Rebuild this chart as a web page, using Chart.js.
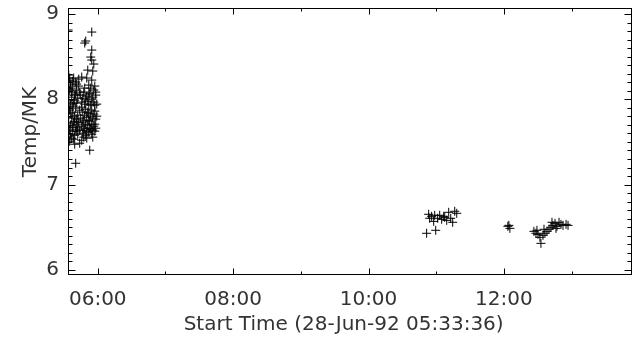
<!DOCTYPE html>
<html><head><meta charset="utf-8">
<script src="https://cdn.jsdelivr.net/npm/chart.js@4.4.1/dist/chart.umd.min.js"></script>
<style>html,body{margin:0;padding:0;background:#fff}canvas{display:block}</style>
</head><body>
<canvas id="c" width="635" height="339"></canvas>
<script>
// Times are decimal hours of day on 28-Jun-92; temperatures in MK
const earlyTimes = [5.570,5.600,5.644,5.674,5.585,5.630,5.689,5.570,5.615,5.659,5.704,5.562,5.600,5.644,5.585,5.630,5.674,5.570,5.615,5.659,5.704,5.562,5.600,5.644,5.689,5.585,5.630,5.674,5.570,5.615,5.659,5.704,5.600,5.562,5.659,5.570,5.689,5.600,5.719,5.570,5.562,
  5.659,5.763,5.881,5.674,5.733,5.793,
  5.748,5.793,5.837,5.881,5.926,5.970,5.763,5.807,5.852,5.896,5.941,5.733,5.778,5.822,5.867,5.911,5.956,5.748,5.793,5.837,5.881,5.926,5.970,5.763,5.807,5.852,5.896,5.941,5.778,5.822,5.867,5.911,5.956,5.719,5.733,5.985,5.704,
  5.911,5.822,5.807,5.911,5.896,5.911,5.926,5.852,5.763,5.911,5.941,5.867,5.896,5.956,5.837,5.719,5.733,
  5.585,5.630,5.689,5.615,5.674,5.570,5.630,5.689,5.600,5.659,5.570,5.630,5.689,5.585,5.644,
  5.778,5.822,5.867,5.911,5.956,5.763,5.807,5.852,5.896,5.941,5.985,5.778,5.822,5.867,5.911,5.956,5.793,5.837,5.881,5.926,5.970,5.837,5.926,5.807,5.867,5.970,5.941];
const earlyTemps = [8.225,8.178,8.249,8.202,8.108,8.131,8.108,8.049,8.025,8.049,8.014,7.967,7.943,7.955,7.873,7.849,7.896,7.790,7.779,7.802,7.814,7.720,7.697,7.732,7.708,7.638,7.626,7.650,7.567,7.544,7.579,7.591,8.155,8.131,7.990,7.908,7.767,7.591,8.237,8.284,8.812,
  7.473,7.520,7.403,7.250,7.485,7.556,
  8.049,8.084,8.037,8.072,8.025,8.049,7.967,7.943,7.978,7.931,7.967,7.873,7.849,7.884,7.837,7.873,7.861,7.779,7.755,7.790,7.743,7.779,7.767,7.685,7.661,7.697,7.650,7.685,7.603,7.579,7.614,7.591,7.626,7.732,7.638,7.943,7.673,
  8.788,8.683,8.659,8.577,8.495,8.460,8.331,8.342,8.260,8.225,8.413,8.166,8.131,8.155,8.249,8.155,8.084,
  8.249,8.213,8.178,8.084,8.061,7.990,7.920,7.955,7.837,7.743,7.673,7.673,7.626,7.509,7.532,
  8.014,8.002,7.943,8.002,7.931,7.908,7.814,7.849,7.802,7.826,7.802,7.732,7.708,7.755,7.708,7.708,7.638,7.626,7.661,7.638,7.661,7.544,7.556,8.131,8.061,8.084,8.108];
const midTimes = [10.859,10.889,10.933,10.963,10.993,11.022,11.052,11.081,11.111,11.156,11.185,11.215,11.244,11.274,11.304,11.126,10.978,10.904];
const midTemps = [6.429,6.652,6.628,6.569,6.464,6.605,6.640,6.593,6.628,6.581,6.675,6.605,6.558,6.687,6.663,6.616,6.640,6.605];
const noonTimes = [12.059,12.089,12.074];
const noonTemps = [6.511,6.487,6.522];
const lateTimes = [12.444,12.474,12.504,12.533,12.548,12.578,12.607,12.637,12.667,12.696,12.726,12.756,12.785,12.815,12.844,12.874,12.919,12.948,12.489,12.593,12.711,12.770];
const lateTemps = [6.452,6.429,6.417,6.382,6.311,6.405,6.429,6.452,6.476,6.499,6.522,6.546,6.511,6.558,6.534,6.522,6.534,6.522,6.464,6.476,6.558,6.487];

const xTickHours = [6, 8, 10, 12];
const xMinorHours = [7, 9, 11, 13];
const yTickValues = [6, 7, 8, 9];
const xRange = [5.56, 13.8933];
const yRange = [5.94, 9.07];
const xTitle = 'Start Time (28-Jun-92 05:33:36)';
const yTitle = 'Temp/MK';

const allTimes = earlyTimes.concat(midTimes, noonTimes, lateTimes);
const allTemps = earlyTemps.concat(midTemps, noonTemps, lateTemps);
const points = allTimes.map((t, i) => ({x: t, y: allTemps[i]}));

const FONT = {family: 'DejaVu Sans', size: 20};
const TXT = '#333';

const frameTicks = {
  id: 'frameTicks',
  afterDatasetsDraw(chart) {
    const {ctx, chartArea: a, scales: {x, y}} = chart;
    ctx.save();
    ctx.strokeStyle = '#000';
    ctx.lineWidth = 1;
    const L = Math.round(a.left) + 0.5, R = Math.round(a.right) - 0.5;
    const T = Math.round(a.top) + 0.5, B = Math.round(a.bottom) - 0.5;
    ctx.strokeRect(L, T, R - L, B - T);
    ctx.beginPath();
    const xt = xTickHours.map(h => [h, 6]).concat(xMinorHours.map(h => [h, 3]));
    for (const [h, len] of xt) {
      const px = Math.round(x.getPixelForValue(h)) + 0.5;
      ctx.moveTo(px, B); ctx.lineTo(px, B - len);
      ctx.moveTo(px, T); ctx.lineTo(px, T + len);
    }
    for (let k = 59; k <= 91; k++) {
      const v = k / 10;
      if (v < yRange[0] || v > yRange[1]) continue;
      const py = Math.round(y.getPixelForValue(v)) + 0.5;
      const len = (k % 10 === 0) ? 7 : 4;
      ctx.moveTo(L, py); ctx.lineTo(L + len, py);
      ctx.moveTo(R, py); ctx.lineTo(R - len, py);
    }
    ctx.stroke();
    ctx.restore();
  }
};

new Chart(document.getElementById('c').getContext('2d'), {
  type: 'scatter',
  data: {datasets: [{
    data: points,
    pointStyle: 'cross',
    pointRadius: 4.5,
    pointHoverRadius: 4.5,
    pointBorderWidth: 1,
    borderColor: '#000',
    backgroundColor: '#000',
    showLine: false
  }]},
  options: {
    responsive: false,
    animation: false,
    devicePixelRatio: 1,
    events: [],
    layout: {autoPadding: false, padding: {top: 8, right: 3, left: 0, bottom: 0}},
    plugins: {legend: {display: false}, tooltip: {enabled: false}},
    scales: {
      x: {
        type: 'linear', min: xRange[0], max: xRange[1],
        grid: {display: false, drawTicks: false},
        border: {display: false},
        afterBuildTicks: s => { s.ticks = xTickHours.map(v => ({value: v})); },
        ticks: {
          callback: v => String(v).padStart(2, '0') + ':00',
          color: TXT, font: FONT, padding: 13, maxRotation: 0, autoSkip: false
        },
        title: {display: true, text: xTitle + '  ', color: TXT, font: FONT, padding: {top: 0, bottom: 2}},
        afterFit: s => { s.height = 64; s.paddingLeft = 0; s.paddingRight = 0; }
      },
      y: {
        type: 'linear', min: yRange[0], max: yRange[1],
        grid: {display: false, drawTicks: false},
        border: {display: false},
        afterBuildTicks: s => { s.ticks = yTickValues.map(v => ({value: v})); },
        ticks: {color: TXT, font: FONT, padding: 9, callback: v => String(v)},
        title: {display: true, text: '   ' + yTitle, color: TXT, font: FONT, padding: {top: 19, bottom: 0}},
        afterFit: s => { s.width = 68; s.paddingTop = 0; s.paddingBottom = 0; }
      }
    }
  },
  plugins: [frameTicks]
});
</script>
</body></html>
